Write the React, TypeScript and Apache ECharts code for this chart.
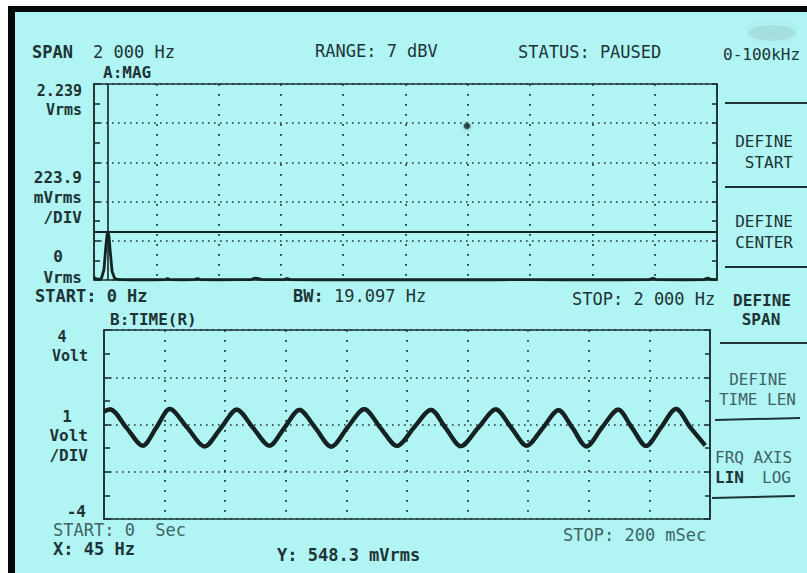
import React, { useEffect, useRef } from "react";
import * as echarts from "echarts";

// ---- A: magnitude spectrum (0 – 2 000 Hz, linear Vrms) ----
const specFreqHz = [
  0, 8, 16, 24, 32, 38, 42, 45, 48, 52, 58, 66, 76, 90, 120, 160, 200, 228, 236, 244,
  280, 322, 332, 342, 400, 460, 505, 515, 525, 540, 610, 620, 630, 700, 800, 900, 1000,
  1100, 1200, 1300, 1400, 1500, 1600, 1700, 1782, 1794, 1806, 1900, 1958, 1970, 1982, 2000,
];
const specVrms = [
  0.03, 0.012, 0.006, 0.02, 0.12, 0.38, 0.52, 0.5483, 0.5, 0.33, 0.1, 0.02, 0.006, 0.004,
  0.003, 0.004, 0.003, 0.004, 0.018, 0.004, 0.003, 0.004, 0.016, 0.004, 0.003, 0.004,
  0.005, 0.02, 0.018, 0.004, 0.004, 0.016, 0.004, 0.003, 0.004, 0.003, 0.004, 0.003, 0.004,
  0.003, 0.004, 0.003, 0.004, 0.003, 0.004, 0.02, 0.004, 0.003, 0.004, 0.022, 0.006, 0.004,
];
const markerFreqHz = 45;
const markerVrms = 0.5483;
const fullScaleVrms = 2.239;
const vrmsPerDiv = 0.2239;

// ---- B: time record (0 – 200 ms, ±4 V) ----
const timeMs = [
  0, 2.0, 7.4, 12.8, 17.2, 21.7, 27.4, 33.2, 38.5, 43.8, 49.2, 54.6, 59.6, 64.5, 69.8,
  75.0, 80.4, 85.9, 91.3, 96.7, 102.3, 107.9, 112.8, 117.8, 123.5, 129.3, 134.4, 139.5,
  144.8, 150.0, 154.6, 159.2, 164.4, 169.7, 174.3, 178.9, 183.8, 188.8, 193.6, 198.4,
];
const timeVolts = [
  0.55, 0.64, -0.13, -0.9, -0.15, 0.66, -0.12, -0.93, -0.16, 0.63, -0.14, -0.9, -0.13,
  0.62, -0.15, -0.94, -0.12, 0.65, -0.15, -0.91, -0.13, 0.62, -0.16, -0.92, -0.14, 0.64,
  -0.13, -0.9, -0.15, 0.61, -0.14, -0.93, -0.12, 0.63, -0.15, -0.91, -0.13, 0.66, -0.14,
  -0.88,
];
const timeStopMs = 200;
const voltLimit = 4;
const voltsPerDiv = 1;

const SCREEN = "#b0f5f4";
const INK = "#1d3334";
const TRACE = "#132424";
const DIM = "#3f6264";
const MONO = '"DejaVu Sans Mono", "Liberation Mono", monospace';

type TextOpts = { bold?: boolean; align?: string; color?: string; size?: number };
const label = (text: string, x: number, y: number, o: TextOpts = {}) => ({
  type: "text",
  x,
  y,
  silent: true,
  style: {
    text,
    font: `${o.bold ? "bold " : ""}${o.size ?? 16}px ${MONO}`,
    fill: o.color ?? INK,
    align: o.align ?? "left",
    verticalAlign: "middle",
  },
});

const rule = (x1: number, y1: number, x2: number, y2: number, w = 2) => ({
  type: "line",
  silent: true,
  shape: { x1, y1, x2, y2 },
  style: { stroke: INK, lineWidth: w },
});

const denseDots = { color: INK, width: 1.6, type: [1.6, 4.4] };
const sparseDots = { color: INK, width: 1.8, type: [1.8, 8.2] };

const leftAxis = (gridIndex: number, min: number, max: number, interval: number) => ({
  type: "value",
  gridIndex,
  min,
  max,
  interval,
  axisLine: { show: true, onZero: false, lineStyle: { color: INK, width: 1.6 } },
  axisTick: { show: true, inside: true, length: 6, lineStyle: { color: INK, width: 1.6 } },
  minorTick: { show: true, splitNumber: 2, length: 6, lineStyle: { color: INK, width: 1.6 } },
  axisLabel: { show: false },
  splitLine: { show: true, lineStyle: denseDots },
});

const rightAxis = (gridIndex: number, min: number, max: number, interval: number) => ({
  ...leftAxis(gridIndex, min, max, interval),
  position: "right",
  axisTick: { show: true, inside: true, length: 5, lineStyle: { color: INK, width: 1.6 } },
  minorTick: { show: true, splitNumber: 2, length: 5, lineStyle: { color: INK, width: 1.6 } },
  splitLine: { show: false },
});

const timeAxis = (gridIndex: number, max: number, interval: number) => ({
  type: "value",
  gridIndex,
  min: 0,
  max,
  interval,
  axisLine: { show: false },
  axisTick: { show: false },
  axisLabel: { show: false },
  splitLine: { show: true, lineStyle: sparseDots },
});

export default function App() {
  const ref = useRef<HTMLDivElement>(null);

  useEffect(() => {
    const chart = echarts.init(ref.current!, null, { renderer: "svg" });

    chart.setOption({
      animation: false,
      backgroundColor: SCREEN,
      grid: [
        { left: 94, top: 84, width: 623, height: 196, show: true, borderColor: INK, borderWidth: 1.6, backgroundColor: "transparent" },
        { left: 104, top: 330, width: 606, height: 189, show: true, borderColor: INK, borderWidth: 1.6, backgroundColor: "transparent" },
      ],
      xAxis: [timeAxis(0, 2000, 200), timeAxis(1, timeStopMs, timeStopMs / 10)],
      yAxis: [
        leftAxis(0, 0, fullScaleVrms, vrmsPerDiv * 2),
        rightAxis(0, 0, fullScaleVrms, vrmsPerDiv * 2),
        leftAxis(1, -voltLimit, voltLimit, voltsPerDiv * 2),
        rightAxis(1, -voltLimit, voltLimit, voltsPerDiv * 2),
      ],
      series: [
        {
          name: "A:MAG",
          type: "line",
          xAxisIndex: 0,
          yAxisIndex: 0,
          symbol: "none",
          clip: false,
          data: specFreqHz.map((f, i) => [f, specVrms[i]]),
          lineStyle: { color: TRACE, width: 2.8 },
          markLine: {
            silent: true,
            symbol: "none",
            label: { show: false },
            data: [
              { xAxis: markerFreqHz, lineStyle: { color: TRACE, width: 1.6, type: "solid" } },
              { yAxis: markerVrms, lineStyle: { color: TRACE, width: 2, type: "solid" } },
            ],
          },
        },
        {
          name: "B:TIME(R)",
          type: "line",
          xAxisIndex: 1,
          yAxisIndex: 2,
          symbol: "none",
          smooth: 0.3,
          data: timeMs.map((t, i) => [t, timeVolts[i]]),
          lineStyle: { color: TRACE, width: 4.2, shadowBlur: 1.5, shadowColor: "rgba(19,36,36,0.6)" },
        },
      ],
      graphic: [
        // bezel
        { type: "rect", silent: true, shape: { x: 0, y: 0, width: 8, height: 573 }, style: { fill: "#ffffff" } },
        { type: "rect", silent: true, shape: { x: 0, y: 0, width: 807, height: 6 }, style: { fill: "#ffffff" } },
        { type: "rect", silent: true, shape: { x: 8, y: 6, width: 7, height: 567 }, style: { fill: "#050808" } },
        { type: "rect", silent: true, shape: { x: 8, y: 6, width: 799, height: 6 }, style: { fill: "#050808" } },
        // screen smudges
        { type: "ellipse", silent: true, shape: { cx: 772, cy: 33, rx: 24, ry: 8 }, style: { fill: "rgba(130,165,165,0.22)", shadowBlur: 14, shadowColor: "rgba(130,165,165,0.45)" } },
        { type: "circle", silent: true, shape: { cx: 467, cy: 126, r: 3 }, style: { fill: "#2c4444", shadowBlur: 3, shadowColor: "#2c4444" } },

        // header
        label("SPAN", 32, 52, { bold: true, size: 17 }),
        label("2 000 Hz", 93, 52, { size: 17 }),
        label("A:MAG", 103, 72, { bold: true }),
        label("RANGE: 7 dBV", 315, 51, { size: 17 }),
        label("STATUS: PAUSED", 518, 52, { size: 17 }),
        label("0-100kHz", 723, 54),

        // A scale
        label("2.239", 82, 91, { bold: true, align: "right", size: 15 }),
        label("Vrms", 82, 110, { bold: true, align: "right", size: 15 }),
        label("223.9", 82, 177, { bold: true, align: "right" }),
        label("mVrms", 82, 197, { bold: true, align: "right" }),
        label("/DIV", 82, 217, { bold: true, align: "right" }),
        label("0", 58, 256, { bold: true, align: "center" }),
        label("Vrms", 82, 277, { bold: true, align: "right" }),
        label("START: 0 Hz", 35, 296, { bold: true, size: 17 }),
        label("BW:", 293, 296, { bold: true, size: 17 }),
        label("19.097 Hz", 334, 296, { size: 17 }),
        label("STOP: 2 000 Hz", 572, 299, { size: 17 }),

        // B scale
        label("B:TIME(R)", 110, 319, { bold: true }),
        label("4", 62, 337, { bold: true, align: "center", size: 15 }),
        label("Volt", 88, 356, { bold: true, align: "right", size: 15 }),
        label("1", 67, 416, { bold: true, align: "center" }),
        label("Volt", 88, 435, { bold: true, align: "right" }),
        label("/DIV", 88, 455, { bold: true, align: "right" }),
        label("-4", 86, 511, { bold: true, align: "right" }),
        label("START: 0  Sec", 53, 530, { color: DIM, size: 17 }),
        label("STOP: 200 mSec", 563, 535, { color: DIM, size: 17 }),
        label("X: 45 Hz", 53, 549, { bold: true, size: 17 }),
        label("Y: 548.3 mVrms", 277, 555, { bold: true, size: 17 }),

        // softkeys
        rule(725, 103, 807, 103),
        label("DEFINE", 793, 141, { align: "right" }),
        label("START", 793, 162, { align: "right" }),
        rule(725, 187, 807, 187),
        label("DEFINE", 793, 221, { align: "right" }),
        label("CENTER", 793, 242, { align: "right" }),
        rule(725, 267, 807, 267),
        label("DEFINE", 762, 300, { bold: true, align: "center" }),
        label("SPAN", 761, 319, { bold: true, align: "center" }),
        rule(720, 343, 807, 343),
        label("DEFINE", 787, 379, { align: "right", color: DIM }),
        label("TIME LEN", 796, 399, { align: "right", color: DIM }),
        rule(715, 420, 800, 418),
        label("FRQ AXIS", 715, 457, { color: DIM }),
        label("LIN", 715, 477, { bold: true }),
        label("LOG", 762, 477, { color: DIM }),
        rule(712, 498, 795, 496),
      ],
    });

    return () => chart.dispose();
  }, []);

  return (
    <div
      ref={ref}
      style={{ position: "fixed", left: 0, top: 0, width: 807, height: 573 }}
    />
  );
}
